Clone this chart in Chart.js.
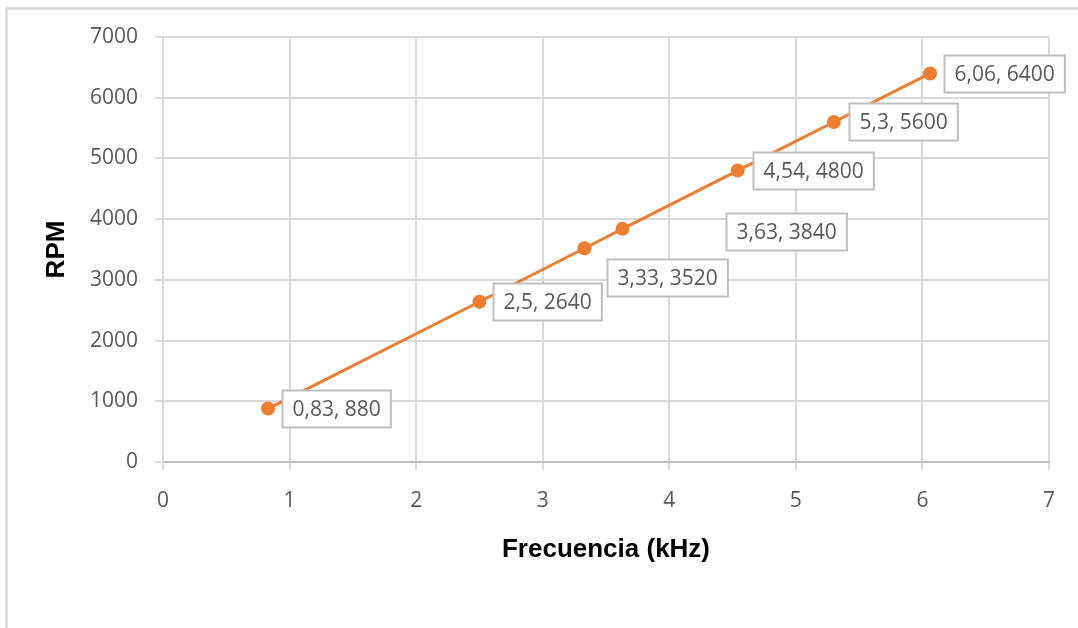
<!DOCTYPE html>
<html>
<head>
<meta charset="utf-8">
<script src="https://cdn.jsdelivr.net/npm/chart.js@4/dist/chart.umd.min.js"></script>
<style>
  html, body { margin: 0; padding: 0; background: #ffffff; }
  #wrap { width: 1078px; height: 628px; position: relative; }
</style>
</head>
<body>
<div id="wrap"><canvas id="c" width="1078" height="628"></canvas></div>
<script>
// Frequency (kHz) vs. motor speed (RPM)
const frecuencia = [0.83, 2.5, 3.33, 3.63, 4.54, 5.3, 6.06];
const rpm = [880, 2640, 3520, 3840, 4800, 5600, 6400];
const etiquetas = ['0,83, 880', '2,5, 2640', '3,33, 3520', '3,63, 3840', '4,54, 4800', '5,3, 5600', '6,06, 6400'];

// Where each value box sits relative to its point (left edge / vertical centre)
const desplazamientos = [[14, 0], [14, 0], [23, 29], [104, 3], [15, 0], [15, 0], [14, 0]];

const NARANJA = '#ED7D31';
const TEXTO = '#595959';
const REJILLA = '#d9d9d9';
const EJE = '#bfbfbf';
const FUENTE = "'Open Sans', 'Noto Sans', sans-serif";

const marco = {
  id: 'marco',
  beforeDraw(chart) {
    const ctx = chart.ctx;
    ctx.save();
    ctx.strokeStyle = '#d9d9d9';
    ctx.lineWidth = 2.5;
    ctx.beginPath();
    ctx.moveTo(6.5, 628);
    ctx.lineTo(6.5, 8.5);
    ctx.lineTo(1078, 8.5);
    ctx.stroke();
    ctx.restore();
  }
};

const cajas = {
  id: 'cajas',
  afterDatasetsDraw(chart) {
    const ctx = chart.ctx;
    const meta = chart.getDatasetMeta(0);
    ctx.save();
    ctx.font = '21px ' + FUENTE;
    ctx.textBaseline = 'middle';
    ctx.textAlign = 'left';
    meta.data.forEach((pt, i) => {
      const [dx, dy] = desplazamientos[i];
      const txt = etiquetas[i];
      const w = ctx.measureText(txt).width + 20;
      const h = 37;
      const x = Math.round(pt.x + dx) + 0.5;
      const y = Math.round(pt.y + dy - h / 2) + 0.5;
      ctx.fillStyle = '#ffffff';
      ctx.fillRect(x, y, w, h);
      ctx.strokeStyle = EJE;
      ctx.lineWidth = 2;
      ctx.strokeRect(x, y, w, h);
      ctx.fillStyle = TEXTO;
      ctx.fillText(txt, x + 10, y + h / 2 + 1);
    });
    ctx.restore();
  }
};

new Chart(document.getElementById('c'), {
  type: 'scatter',
  data: {
    datasets: [{
      data: frecuencia.map((f, i) => ({ x: f, y: rpm[i] })),
      showLine: true,
      borderColor: NARANJA,
      backgroundColor: NARANJA,
      borderWidth: 3,
      pointRadius: 7,
      pointHoverRadius: 7,
      pointBorderWidth: 0,
      tension: 0
    }]
  },
  options: {
    responsive: false,
    animation: false,
    layout: { padding: { top: 37, right: 29, left: 0, bottom: 0 } },
    plugins: { legend: { display: false }, tooltip: { enabled: false } },
    scales: {
      x: {
        type: 'linear',
        min: 0, max: 7,
        ticks: { stepSize: 1, color: TEXTO, font: { family: FUENTE, size: 21 }, padding: 18,
                 callback: v => String(v) },
        grid: { color: REJILLA, lineWidth: 2, tickLength: 8, tickColor: REJILLA },
        border: { color: EJE, width: 2 },
        title: {
          display: true, text: 'Frecuencia (kHz)', color: '#000000',
          font: { family: "'Liberation Sans', Arial, sans-serif", size: 26, weight: 'bold' },
          padding: { top: 0, bottom: 63 }
        },
        afterFit(s) { s.height = 166; }
      },
      y: {
        type: 'linear',
        min: 0, max: 7000,
        ticks: { stepSize: 1000, color: TEXTO, font: { family: FUENTE, size: 21 }, padding: 17,
                 callback: v => String(v) },
        grid: { color: REJILLA, lineWidth: 2, tickLength: 8, tickColor: REJILLA },
        border: { color: REJILLA, width: 2 },
        title: {
          display: true, text: 'RPM', color: '#000000',
          font: { family: "'Liberation Sans', Arial, sans-serif", size: 26, weight: 'bold' },
          padding: { top: 41, bottom: 0 }
        },
        afterFit(s) { s.width = 163; }
      }
    }
  },
  plugins: [marco, cajas]
});
</script>
</body>
</html>
